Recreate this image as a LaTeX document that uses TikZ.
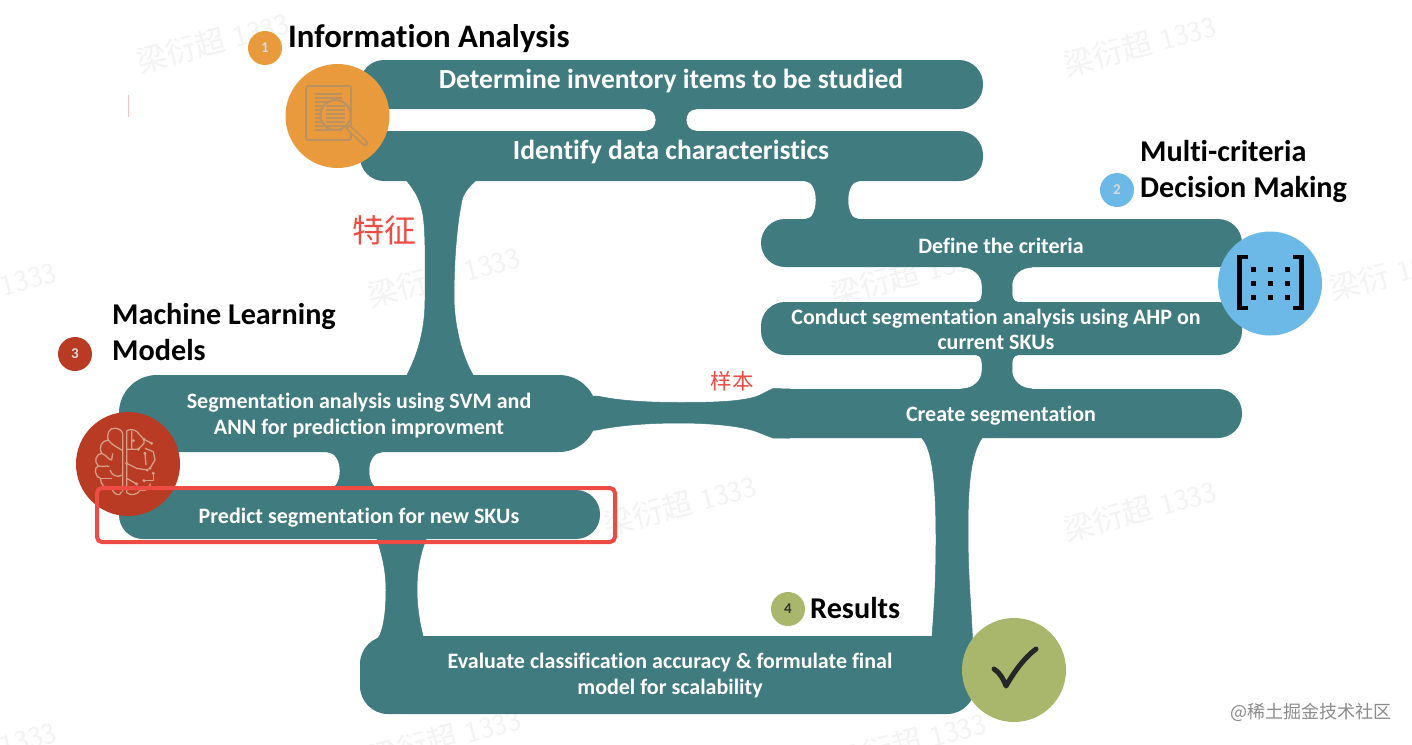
\documentclass[tikz,border=0pt]{standalone}
\usepackage{fontspec}
\setmainfont[Ligatures=NoCommon]{Carlito}
\newfontfamily\cjk{Noto Sans CJK SC}
\usetikzlibrary{calc}
\definecolor{barteal}{HTML}{3F7B7F}
\definecolor{iorange}{HTML}{E89A3C}
\definecolor{iblue}{HTML}{6CB9E8}
\definecolor{ired}{HTML}{B93B24}
\definecolor{iolive}{HTML}{A9B76D}
\definecolor{boxred}{HTML}{EE4B45}
\definecolor{wm}{HTML}{F3F3F3}
\definecolor{docline}{HTML}{BC9160}
\definecolor{brainline}{HTML}{D69E86}
\tikzset{
 x=1pt,y=-1pt,
 bar/.style={fill=barteal,inner sep=0pt,rounded corners=#1},
 bar/.default=24pt,
 linkshape/.style={fill=barteal,draw=barteal,line width=.5pt},
 bartext/.style={text=white,font=\fontsize{22}{25.5}\selectfont\bfseries,align=center,inner sep=0pt},
 bartextbig/.style={text=white,font=\fontsize{27.6}{30}\selectfont\bfseries,align=center,inner sep=0pt},
 heading/.style={text=black,font=\fontsize{30.2}{36}\selectfont\bfseries,align=left,anchor=west,inner sep=0pt},
 bigdot/.style={circle,inner sep=0pt,minimum size=104pt},
 smalldot/.style={circle,inner sep=0pt,minimum size=34pt,text=white!85!black,font=\fontsize{15}{15}\selectfont\bfseries},
 redtext/.style={text=boxred,inner sep=0pt},
 watermark/.style={text=wm,font=\fontsize{30}{30}\selectfont\sffamily,rotate=15,inner sep=0pt},
}
% #1 upper node, #2 lower node, #3 left x, #4 right x,
% #5,#6 fillet radii at the upper node, #7,#8 fillet radii at the lower node
\newcommand{\vlink}[8]{%
 \fill[linkshape] (#1.south -| #3-#5,0)
  .. controls (#1.south -| #3-.45*#5,0) and ([yshift=-.45*#6 pt]#1.south -| #3,0) .. ([yshift=-#6 pt]#1.south -| #3,0)
  -- ([yshift=#8 pt]#2.north -| #3,0)
  .. controls ([yshift=.45*#8 pt]#2.north -| #3,0) and (#2.north -| #3-.45*#7,0) .. (#2.north -| #3-#7,0)
  -- (#2.north -| #4+#7,0)
  .. controls (#2.north -| #4+.45*#7,0) and ([yshift=.45*#8 pt]#2.north -| #4,0) .. ([yshift=#8 pt]#2.north -| #4,0)
  -- ([yshift=-#6 pt]#1.south -| #4,0)
  .. controls ([yshift=-.45*#6 pt]#1.south -| #4,0) and (#1.south -| #4+.45*#5,0) .. (#1.south -| #4+#5,0) -- cycle;}
\begin{document}
\begin{tikzpicture}
\useasboundingbox (0,0) rectangle (1412,744);
\fill[white] (0,0) rectangle (1412,744);
% watermarks
\foreach \p/\q in {213/42,1140/45,444/276,907/275,680/505,1140/510,445/738,910/742}
  \node[watermark] at (\p,\q) {{\cjk 梁衍超} 1333};
\node[watermark,anchor=east] at (56,272) {1333};
\node[watermark,anchor=east] at (56,732) {1333};
\node[watermark,anchor=west] at (1330,290) {{\cjk 梁衍} 1333};
\draw[draw=boxred!35,line width=1pt] (128,95) -- (128,117);

% bars
\node[bar,minimum width=623pt,minimum height=49pt] (b1) at (671.5,84.5) {};
\node[bar,minimum width=623pt,minimum height=50pt] (b2) at (671.5,156) {};
\node[bar,minimum width=481pt,minimum height=48pt] (b3) at (1001.5,243) {};
\node[bar,minimum width=481pt,minimum height=53pt] (b4) at (1001.5,328.5) {};
\node[bar,minimum width=481pt,minimum height=49pt] (b5) at (1001.5,413.5) {};
\node[bar=38pt,minimum width=478pt,minimum height=77pt] (b6) at (358,413.5) {};
\node[bar,minimum width=481pt,minimum height=49pt] (b7) at (359.5,514.5) {};
\node[bar=28pt,minimum width=615pt,minimum height=78pt] (b8) at (667.5,675) {};

% links
\vlink{b1}{b2}{656}{686}{9}{11}{9}{11}
\vlink{b2}{b3}{816}{848}{10}{18}{9}{18}
\vlink{b3}{b4}{982}{1012}{20}{18}{5}{8}
\vlink{b4}{b5}{982}{1012}{5}{8}{20}{18}
\vlink{b6}{b7}{340}{369}{12}{18}{12}{18}
% b2 to b6
\fill[linkshape] (b2.south -| 407,0) .. controls (414,190) and (420,198) .. (423,215)
  .. controls (426,235) and (425,270) .. (425,300)
  .. controls (425,325) and (420,350) .. (b6.north -| 407,0)
  -- (b6.north -| 473,0) .. controls (463,358) and (455,330) .. (454,300)
  .. controls (454,265) and (456,230) .. (462,200) .. controls (464,192) and (470,186) .. (b2.south -| 475,0) -- cycle;
% b7 to b8
\fill[linkshape] (b7.south -| 377,0) .. controls (382,555) and (386,570) .. (386,590)
  .. controls (386,610) and (384,625) .. (380,635)
  .. controls (376,642) and (366,645) .. (362,660)
  -- (430,660) -- (b8.north -| 423,0) .. controls (419,620) and (417,605) .. (417,590)
  .. controls (417,570) and (420,555) .. (b7.south -| 426,0) -- cycle;
% b5 to b8
\fill[linkshape] (b5.south -| 922,0) .. controls (932,450) and (936,480) .. (936,540)
  .. controls (936,580) and (934,610) .. (b8.north -| 932,0)
  -- (950,660) -- (973,650) .. controls (971,600) and (968,580) .. (968,530)
  .. controls (968,490) and (970,455) .. (b5.south -| 982,0) -- cycle;
% b6 to b5
\fill[linkshape] (b6.east |- 0,396) .. controls (620,401) and (650,402.5) .. (680,402.5)
  .. controls (710,402.5) and (745,402) .. (760,395) -- (773,388.5) -- (790,389) -- (790,438)
  -- (773,438) -- (760,433) .. controls (745,426) and (710,423) .. (680,423)
  .. controls (650,423) and (620,425) .. (b6.east |- 0,430) -- (585,431) -- (585,396) -- cycle;

% bar texts
\node[bartextbig] (t1) at (671,80.5) {Determine inventory items to be studied};
\node[bartextbig] (t2) at (671,151.5) {Identify data characteristics};
\node[bartext] (t3) at (1001,246) {Define the criteria};
\node[bartext] (t4) at (996,329.5) {Conduct segmentation analysis using AHP on\\current SKUs};
\node[bartext] (t5) at (1001,415.5) {Create segmentation};
\node[bartext] (t6) at (359,415.5) {Segmentation analysis using SVM and\\ANN for prediction improvment};
\node[bartext] (t7) at (359,518) {Predict segmentation for new SKUs};
\node[bartext] (t8) at (670,675.5) {Evaluate classification accuracy \& formulate final\\model for scalability};

% circles
\node[bigdot,fill=iorange] (c1) at (337.5,116) {};
\node[bigdot,fill=iblue] (c2) at (1270,283.5) {};
\node[bigdot,fill=ired] (c3) at (128,464) {};
\node[bigdot,fill=iolive] (c4) at (1014,670) {};
\node[smalldot,fill=iorange] (n1) at (265,48) {1};
\node[smalldot,fill=iblue] (n2) at (1117,190) {2};
\node[smalldot,fill=ired] (n3) at (75,354) {3};
\node[smalldot,fill=iolive,text=black!80] (n4) at (788,609) {4};

% headings
\node[heading,font=\fontsize{32.8}{36}\selectfont\bfseries] (h1) at (288,38.5) {Information Analysis};
\node[heading] (h2) at (1140,171.5) {Multi-criteria\\Decision Making};
\node[heading] (h3) at (112,332.5) {Machine Learning\\Models};
\node[heading] (h4) at (810,608.5) {Results};

% document icon
\begin{scope}[draw=docline,line width=1.6pt]
 \draw[rounded corners=2pt] (306,86) rectangle (351,140);
 \foreach \yy in {94,98,102,106,110,114,118,122,126,130} \draw[line width=1.2pt] (315,\yy) -- (342,\yy);
 \fill[iorange] (335.5,115) circle (15);
 \foreach \yy in {106,110,114,118,122,126} \draw[line width=1.1pt] (326,\yy) -- (345,\yy);
 \draw[line width=2pt] (335.5,115) circle (15);
 \draw[line width=6pt,line cap=round] (349,128) -- (365,143);
 \draw[line width=3pt,iorange,line cap=round] (349.5,128.5) -- (364.5,142.5);
\end{scope}

% matrix icon
\draw[black,line width=4.5pt] (1248,257) -- (1239.5,257) -- (1239.5,308) -- (1248,308);
\draw[black,line width=4.5pt] (1293,257) -- (1301.5,257) -- (1301.5,308) -- (1293,308);
\foreach \xx in {1253,1270,1287} \foreach \yy in {269,283,297}
  \fill[black] (\xx-2.5,\yy-2.5) rectangle (\xx+2.5,\yy+2.5);

% brain icon (coordinates of a 3x crop)
\begin{scope}[xshift=70pt,yshift=-410pt,x=.3333pt,y=-.3333pt,draw=brainline,fill=brainline,line width=1.3pt,line join=round]
 \draw (155,245) .. controls (150,262) and (130,255) .. (125,232) .. controls (105,240) and (90,222) .. (92,205)
   .. controls (72,200) and (72,170) .. (85,168) .. controls (70,155) and (78,132) .. (95,130)
   .. controls (85,110) and (95,92) .. (115,90) .. controls (108,70) and (120,52) .. (135,55)
   .. controls (145,55) and (155,60) .. (158,70) -- (158,245);
 \draw (115,90) .. controls (125,105) and (140,110) .. (158,122);
 \draw (95,130) .. controls (110,135) and (115,150) .. (125,150) (125,150) -- (128,130);
 \draw (85,168) .. controls (100,172) and (110,165) .. (118,170);
 \draw (120,180) .. controls (125,195) and (140,205) .. (158,195);
 \draw (92,205) -- (125,205);
 \draw (170,62) -- (170,248) (170,62) .. controls (185,55) and (200,60) .. (207,72);
 \draw (170,248) .. controls (180,258) and (205,255) .. (210,240) .. controls (225,245) and (245,235) .. (240,220);
 \draw (185,62) -- (185,118) (170,118) -- (205,118) -- (222,100) -- (222,88);
 \draw (207,72) -- (222,88) -- (245,100);
 \draw (225,115) -- (250,125) -- (255,150) -- (240,175);
 \draw (225,130) -- (228,165);
 \draw (170,160) -- (200,175) -- (232,180);
 \draw (250,190) -- (250,212) -- (222,212);
 \draw (170,205) -- (200,222);
 \foreach \dx/\dy in {190/92,205/118,222/88,245/100,225/130,240/175,170/160,232/180,222/212,200/222,250/190}
   \fill (\dx,\dy) circle (5);
\end{scope}

% check mark
\draw[black!85,line width=5pt,line cap=round,line join=round] (994,669) .. controls (999,672) and (1003,678) .. (1006,686) .. controls (1014,672) and (1024,658) .. (1036,649);

% red frame
\node[draw=boxred,line width=4pt,rounded corners=5pt,inner sep=0pt,minimum width=518pt,minimum height=54pt] (frame) at (356,515) {};

% red labels
\node[redtext,font=\fontsize{32}{32}\cjk] (l1) at (384,230) {特征};
\node[redtext,font=\fontsize{21.5}{22}\cjk] (l2) at (732,381) {样本};

% site mark
\node[anchor=east,text=black!45,inner sep=0pt,font=\fontsize{18}{18}\cjk] (site) at (1392,712) {@稀土掘金技术社区};
\end{tikzpicture}
\end{document}
